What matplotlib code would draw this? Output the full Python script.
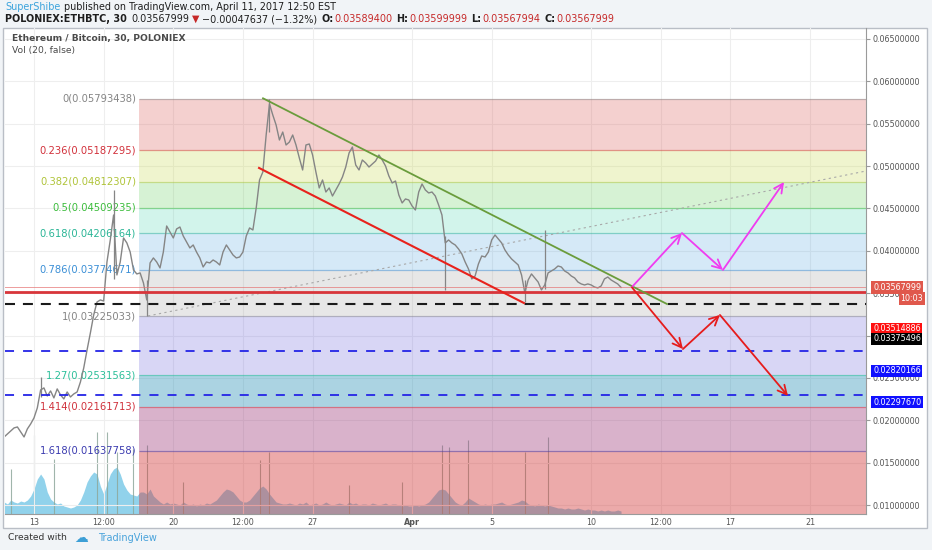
import matplotlib
matplotlib.use('Agg')
import numpy as np
import matplotlib.pyplot as plt
from matplotlib.patches import Rectangle

##########DATA##########
# 4h bars, x in days counted from March 0 (13 = Mar 13, 32 = Apr 1)
t_start = 11.5
t_step = 1 / 6

close = [
    0.01803, 0.01839, 0.01874, 0.01910, 0.01921, 0.01862, 0.01803, 0.01898, 0.01957, 0.02028,
    0.02146, 0.02358, 0.02382, 0.02287, 0.02346, 0.02264, 0.02370, 0.02299, 0.02252, 0.02334,
    0.02275, 0.02311, 0.02334, 0.02452, 0.02618, 0.02830, 0.03031, 0.03243, 0.03396, 0.03420,
    0.03408, 0.03868, 0.04128, 0.04423, 0.03715, 0.03868, 0.04152, 0.04093, 0.03986, 0.03774,
    0.03727, 0.03739, 0.03621, 0.03420, 0.03857, 0.03916, 0.03868, 0.03798, 0.03986, 0.04293,
    0.04222, 0.04152, 0.04258, 0.04281, 0.04175, 0.04104, 0.04034, 0.04069, 0.03986, 0.03916,
    0.03809, 0.03868, 0.03857, 0.03892, 0.03868, 0.03833, 0.03986, 0.04069, 0.04010, 0.03951,
    0.03916, 0.03927, 0.03986, 0.04175, 0.04270, 0.04246, 0.04506, 0.04836, 0.04930, 0.05367,
    0.05733, 0.05603, 0.05485, 0.05308, 0.05402, 0.05249, 0.05284, 0.05367, 0.05249, 0.05096,
    0.04954, 0.05249, 0.05261, 0.05131, 0.04930, 0.04742, 0.04836, 0.04694, 0.04742, 0.04647,
    0.04718, 0.04789, 0.04871, 0.04989, 0.05155, 0.05225, 0.05013, 0.04954, 0.05072, 0.05037,
    0.04989, 0.05025, 0.05060, 0.05131, 0.05072, 0.05001, 0.04883, 0.04801, 0.04824, 0.04659,
    0.04565, 0.04612, 0.04600, 0.04529, 0.04482, 0.04694, 0.04789, 0.04718, 0.04683, 0.04694,
    0.04647, 0.04541, 0.04423, 0.04093, 0.04128, 0.04093, 0.04069, 0.04022, 0.03963, 0.03868,
    0.03786, 0.03668, 0.03703, 0.03845, 0.03939, 0.03927, 0.03986, 0.04128, 0.04187, 0.04140,
    0.04093, 0.04010, 0.03951, 0.03904, 0.03868, 0.03833, 0.03715, 0.03503, 0.03656, 0.03727,
    0.03680, 0.03632, 0.03538, 0.03597, 0.03739, 0.03762, 0.03786, 0.03821, 0.03809, 0.03762,
    0.03739, 0.03703, 0.03680, 0.03632, 0.03609, 0.03597, 0.03609, 0.03597, 0.03573, 0.03562,
    0.03585, 0.03668, 0.03691, 0.03656, 0.03632, 0.03609, 0.03568,
]

# long wicks
wick_idx = [11, 33, 43, 80, 133, 157, 163]
wick_lo = [0.0228, 0.0367, 0.03225, 0.0540, 0.0354, 0.0340, 0.0355]
wick_hi = [0.0251, 0.0472, 0.0365, 0.05793, 0.0418, 0.0365, 0.04246]

vol = [
    12, 10, 14, 12, 11, 13, 12, 14,
    18, 25, 35, 40, 35, 22, 15,
    12, 10, 11, 8, 7,
    6, 7, 9, 14,
    22, 32, 38, 42, 40, 28,
    20, 30, 40, 45, 47, 40, 30, 24,
    20, 19, 18, 22,
    22, 20, 25, 18, 15, 12, 10, 12, 10, 11,
    10, 9, 12, 10, 9, 10, 8, 10, 9, 11,
    10, 12, 14, 18, 22, 25, 24, 22, 18, 14, 12,
    12, 14, 18, 22, 26, 28, 25, 20, 16, 12, 11, 10, 10, 11,
    10, 9, 11, 10, 12, 9, 10, 11, 9, 10, 12, 10, 9, 10, 11, 10, 9, 12,
    10, 11, 9, 10, 10, 9, 11, 10, 9, 10, 11, 9, 10, 10, 9, 8, 9, 8,
    8, 9, 8, 9, 10, 12, 16, 20, 24,
    25, 24, 20, 16, 12, 10, 9,
    12, 16, 14, 12, 10, 9, 10, 9, 10,
    10, 11, 12, 10, 9, 10, 11, 12, 14, 13, 10,
    9, 8, 10, 9, 8, 9, 8,
    7, 6, 6, 5, 6, 5, 5, 6, 5, 4, 5,
    4, 4, 3, 4, 3, 4, 3, 3, 4, 3,
]
vspike_idx = [2, 9, 15, 28, 31, 34, 39, 43, 54, 77, 80, 104, 120, 132, 134, 140, 157, 164]
vspike_h = [45, 79, 55, 82, 82, 62, 65, 69, 32, 54, 62, 29, 32, 69, 67, 74, 62, 77]

fib_ratio = ['0', '0.236', '0.382', '0.5', '0.618', '0.786', '1', '1.27', '1.414', '1.618']
fib_price = [0.05793438, 0.05187295, 0.04812307, 0.04509235, 0.04206164,
             0.03774671, 0.03225033, 0.02531563, 0.02161713, 0.01637758]
fib_start = 18.28

support_red = 0.03514886
support_black = 0.03375496
target_blue = [0.02820166, 0.02297670]
last_price = 0.03567999

green_x, green_y = [24.51, 44.81], [0.05800, 0.03372]
red_x, red_y = [24.31, 37.62], [0.04978, 0.03384]
dot_x, dot_y = [18.73, 54.81], [0.03231, 0.04942]
up_x, up_y = [43.05, 45.56, 47.62, 50.69], [0.03573, 0.04210, 0.03774, 0.04812]
down_x, down_y = [43.05, 45.61, 47.47, 50.89], [0.03568, 0.02841, 0.03243, 0.02287]

xtick_pos = [13, 16.5, 20, 23.5, 27, 32, 36, 41, 44.5, 48, 52]
xtick_lab = ['13', '12:00', '20', '12:00', '27', 'Apr', '5', '10', '12:00', '17', '21']

##########FIGURE##########
W, H = 932, 550
fig = plt.figure(figsize=(9.32, 5.5), dpi=100, facecolor='#f1f4f7')

def fx(px):
    return px / W

def fy(py):
    return 1 - py / H

fig.add_artist(Rectangle((fx(3), fy(528)), fx(927) - fx(3), fy(28) - fy(528),
                         transform=fig.transFigure, facecolor='white',
                         edgecolor='#b9bec6', lw=1, zorder=-10))

rect = [fx(5), fy(514), fx(866) - fx(5), fy(28) - fy(514)]
axv = fig.add_axes(rect, zorder=0)
ax = fig.add_axes(rect, zorder=1)
ax.patch.set_visible(False)

xlim = (11.543, 54.81)
ylim = (0.008938, 0.066298)
x = t_start + t_step * np.arange(len(close))

# volume pane (behind the fib fills)
axv.axis('off')
axv.set_xlim(xlim)
axv.set_ylim(0, 486)
axv.fill_between(x, 0, vol, color='#62bfe3', alpha=0.7, lw=0)
axv.vlines(x[vspike_idx], 0, vspike_h, color='#8fa89c', lw=0.8, alpha=0.85)

# fib retracement
band_col = ['#d9534f', '#c6d94a', '#5fce55', '#4fd6b0', '#5aa9e0',
            '#8a8a8a', '#6f68dc', '#2e93b8', '#a0407f', '#d43a3a']
band_alpha = [0.27, 0.27, 0.25, 0.25, 0.25, 0.2, 0.27, 0.4, 0.4, 0.43]
line_col = ['#888888', '#d2323c', '#b3c63c', '#3fbf3f', '#2db596',
            '#3d8fd6', '#888888', '#2bbf99', '#d0323c', '#3a3ab0']
label_col = ['#858585', '#d2323c', '#b0c43a', '#3cbc3c', '#2ab596',
             '#3b8fd6', '#858585', '#2bbf99', '#d0323c', '#3c3cb0']
lows = fib_price[1:] + [ylim[0]]
for k in range(len(fib_price)):
    ax.fill_between([fib_start, xlim[1]], lows[k], fib_price[k],
                    color=band_col[k], alpha=band_alpha[k], lw=0, zorder=1)
    ax.hlines(fib_price[k], fib_start, xlim[1], color=line_col[k], lw=0.9, alpha=0.5, zorder=1.5)
    ax.annotate('%s(%.8f)' % (fib_ratio[k], fib_price[k]), xy=(fib_start, fib_price[k]),
                xytext=(-3, 0), textcoords='offset pixels', ha='right', va='center',
                color=label_col[k], fontsize=7.2, zorder=2)

# price
ax.plot(x, close, color='#858585', lw=1.0, zorder=3)
ax.vlines(x[wick_idx], wick_lo, wick_hi, color='#858585', lw=0.9, zorder=3)

# horizontal levels
ax.axhline(last_price, color='#e57373', lw=0.7, alpha=0.7, zorder=3)
ax.axhline(support_red, color='#d8353a', lw=2, zorder=4)
ax.axhline(support_black, color='#1a1a1a', lw=1.5, ls=(0, (4.8, 3.8)), zorder=4)
for p in target_blue:
    ax.axhline(p, color='#2424e6', lw=1.3, ls=(0, (5, 5)), zorder=4)

# trend lines and arrows
ax.plot(green_x, green_y, color='#6a9c3c', lw=1.3, zorder=5)
ax.plot(red_x, red_y, color='#e8221c', lw=1.5, zorder=5)
ax.plot(dot_x, dot_y, color='#a8a8a8', lw=0.8, ls=(0, (2, 3)), zorder=2)
for px_, py_, c in [(up_x, up_y, '#f03cf0'), (down_x, down_y, '#e61c1c')]:
    for k in range(len(px_) - 1):
        ax.annotate('', xy=(px_[k + 1], py_[k + 1]), xytext=(px_[k], py_[k]),
                    arrowprops=dict(arrowstyle='->', color=c, lw=1.3, mutation_scale=16,
                                    shrinkA=0, shrinkB=0), zorder=6)

# axes
ax.set_xlim(xlim)
ax.set_ylim(ylim)
ax.set_axisbelow(True)
ax.grid(color='#eeeeee', lw=0.8)
for s in ['left', 'top']:
    ax.spines[s].set_visible(False)
for s in ['right', 'bottom']:
    ax.spines[s].set_color('#9a9a9a')
ax.yaxis.tick_right()
ax.set_yticks(np.arange(0.010, 0.0651, 0.005))
ax.set_yticklabels(['%.8f' % v for v in np.arange(0.010, 0.0651, 0.005)])
ax.tick_params(axis='y', length=3, pad=2, labelsize=5.8, labelcolor='#555555', color='#9a9a9a')
ax.set_xticks(xtick_pos)
ax.set_xticklabels(xtick_lab)
ax.tick_params(axis='x', length=0, pad=3, labelsize=5.8, labelcolor='#555555')
ax.get_xticklabels()[5].set_fontweight('bold')

# price tags on the scale
tags = [('0.03567999', last_price, '#e0584c', 0),
        ('0.03514886', support_red, '#ff1010', 37),
        ('0.03375496', support_black, '#000000', 35),
        ('0.02820166', target_blue[0], '#1010ff', 20),
        ('0.02297670', target_blue[1], '#1010ff', 7)]
for s, p, c, off in tags:
    ax.annotate(s, xy=(1, p), xycoords=('axes fraction', 'data'), xytext=(7, -off),
                textcoords='offset pixels', va='center', ha='left', color='white', fontsize=5.8,
                bbox=dict(boxstyle='square,pad=0.2', fc=c, ec='none'), zorder=10)
ax.annotate('10:03', xy=(1, last_price), xycoords=('axes fraction', 'data'), xytext=(57, -11),
            textcoords='offset pixels', va='center', ha='right', color='white', fontsize=5.8,
            bbox=dict(boxstyle='square,pad=0.2', fc='#e0584c', ec='none'), zorder=10)

##########TEXT##########
def chain(parts, x0, y0, size):
    s, c, w = parts[0][:3]
    prev = fig.text(fx(x0), fy(y0), s, color=c, fontweight=w, fontsize=size, va='center')
    for s, c, w, gap in parts[1:]:
        prev = ax.annotate(s, xy=(1, 0), xycoords=prev, xytext=(gap, 0),
                           textcoords='offset points', va='bottom', color=c,
                           fontweight=w, fontsize=size)

red = '#c62828'
dark = '#1e1e1e'
chain([('SuperShibe', '#3ba3dc', 'normal'),
       ('published on TradingView.com, April 11, 2017 12:50 EST', dark, 'normal', 2.5)], 5, 7, 6.9)
chain([('POLONIEX:ETHBTC, 30', dark, 'bold'),
       ('0.03567999', dark, 'normal', 3),
       ('▼', red, 'normal', 2),
       ('−0.00047637 (−1.32%)', dark, 'normal', 2),
       ('O:', dark, 'bold', 3), ('0.03589400', red, 'normal', 0.5),
       ('H:', dark, 'bold', 3), ('0.03599999', red, 'normal', 0.5),
       ('L:', dark, 'bold', 3), ('0.03567994', red, 'normal', 0.5),
       ('C:', dark, 'bold', 3), ('0.03567999', red, 'normal', 0.5)], 5, 19, 6.9)

fig.text(fx(12), fy(38), 'Ethereum / Bitcoin, 30, POLONIEX', color='#4a4a4a',
         fontweight='bold', fontsize=6.6, va='center')
fig.text(fx(12), fy(50), 'Vol (20, false)', color='#4a4a4a', fontsize=6.6, va='center')

fig.text(fx(8), fy(538), 'Created with', color='#333333', fontsize=6.6, va='center')
fig.text(fx(74), fy(538), '☁', color='#3d9fd6', fontsize=10, va='center')
fig.text(fx(98), fy(538), 'TradingView', color='#4aa3db', fontsize=7, va='center')

fig.savefig('out.png', dpi=100, facecolor=fig.get_facecolor())
